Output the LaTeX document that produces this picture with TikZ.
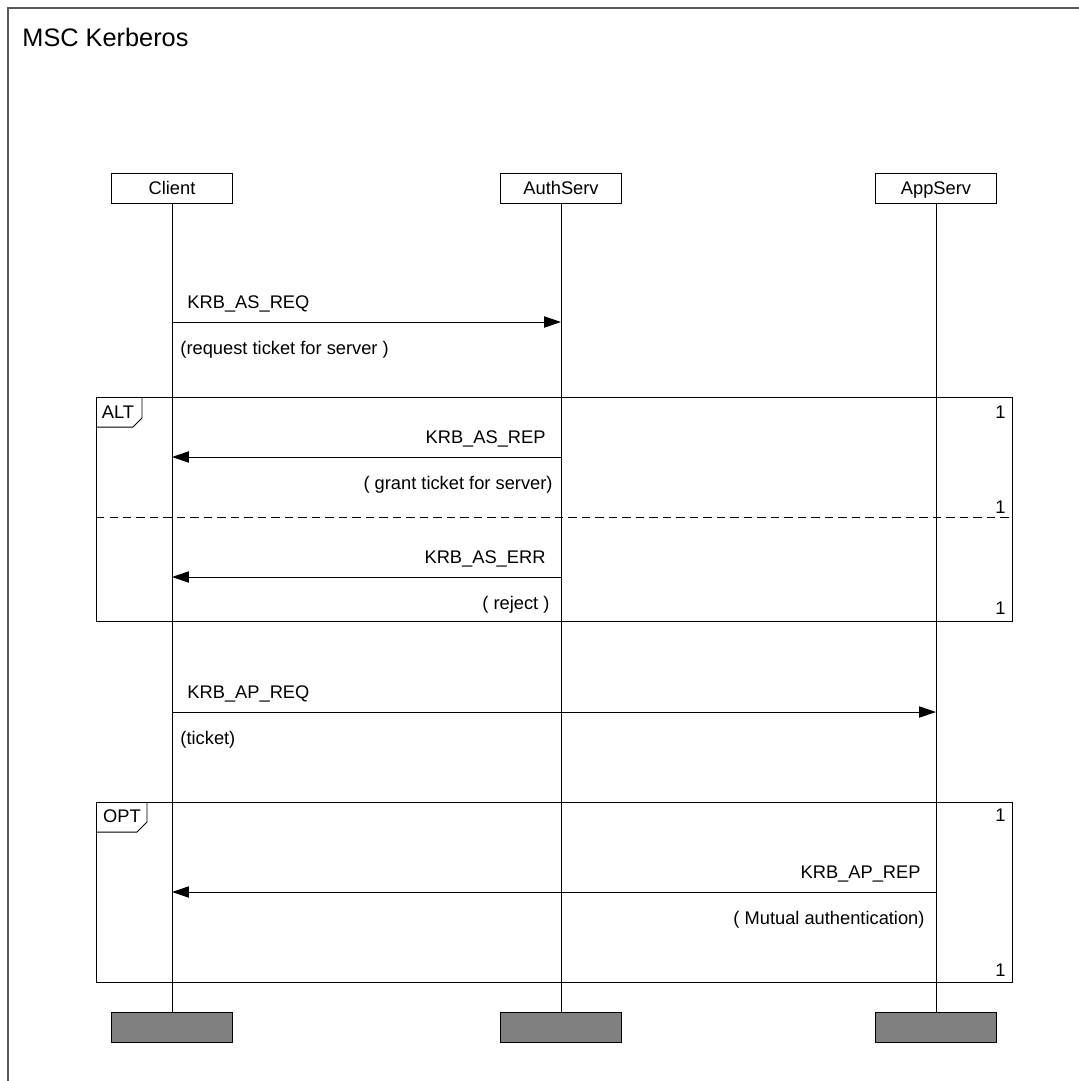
\documentclass[tikz,border=0pt]{standalone}
\usepackage{fontspec}
\setmainfont{Liberation Sans}
\usetikzlibrary{arrows.meta, positioning}

\begin{document}
\begin{tikzpicture}[x=0.025cm, y=-0.025cm, line width=0.7pt,
  inst/.style={draw, minimum width=3cm, minimum height=0.75cm, inner sep=0pt, text height=9.3pt, text depth=0pt, font=\fontsize{13}{15}\selectfont},
  instend/.style={draw, fill=black!50, minimum width=3cm, minimum height=0.75cm, inner sep=0pt},
  msg/.style={-{Triangle[length=12pt, width=8pt]}},
  lbl/.style={inner sep=0pt, font=\fontsize{13}{15}\selectfont},
  count/.style={lbl, anchor=east},
  inline/.style={draw}
]
  \useasboundingbox (0,0) rectangle (1079,1081);
  \draw[black!65, line width=0.9pt] (1079,8) -- (8,8) -- (8,1081);
  \node[anchor=west, inner sep=0pt, font=\fontsize{18}{21}\selectfont] (title) at (22,37) {MSC Kerberos};

  \node[inst] (client) at (172,188) {Client};
  \node[inst] (auth) at (561,188) {AuthServ};
  \node[inst] (app) at (936,188) {AppServ};
  \node[instend] (client-end) at (172,1027) {};
  \node[instend] (auth-end) at (561,1027) {};
  \node[instend] (app-end) at (936,1027) {};
  \foreach \i in {client,auth,app}
    \draw (\i.south) -- (\i-end.north);

  \coordinate (asreq) at (0,322);
  \coordinate (asrep) at (0,457);
  \coordinate (aserr) at (0,577);
  \coordinate (apreq) at (0,712);
  \coordinate (aprep) at (0,892);

  \draw[msg] (client |- asreq) -- (auth |- asreq);
  \node[lbl, anchor=west] (asreq-name) at (187,304) {KRB\_AS\_REQ};
  \node[lbl, anchor=west] (asreq-note) at (180,350) {(request ticket for server )};

  \draw[inline] (96,397) rectangle (1012,621);
  \draw (96,427) -- (133,427) -- (142,418) -- (142,397);
  \node[lbl] (alt-tag) at (118,412) {ALT};
  \draw[dash pattern=on 6pt off 3.6pt] (96,517) -- (1012,517);
  \node[count] (alt-c1) at (1006,412) {1};
  \node[count] (alt-c2) at (1006,507) {1};
  \node[count] (alt-c3) at (1006,608) {1};

  \draw[msg] (auth |- asrep) -- (client |- asrep);
  \node[lbl, anchor=east] (asrep-name) at (546,439) {KRB\_AS\_REP};
  \node[lbl, anchor=east] (asrep-note) at (553,485) {( grant ticket for server)};

  \draw[msg] (auth |- aserr) -- (client |- aserr);
  \node[lbl, anchor=east] (aserr-name) at (546,559) {KRB\_AS\_ERR};
  \node[lbl, anchor=east] (aserr-note) at (550,605) {( reject )};

  \draw[msg] (client |- apreq) -- (app |- apreq);
  \node[lbl, anchor=west] (apreq-name) at (187,694) {KRB\_AP\_REQ};
  \node[lbl, anchor=west] (apreq-note) at (180,740) {(ticket)};

  \draw[inline] (96,802) rectangle (1012,982);
  \draw (96,832) -- (137,832) -- (147,822) -- (147,802);
  \node[lbl] (opt-tag) at (122,816) {OPT};
  \node[count] (opt-c1) at (1006,815) {1};
  \node[count] (opt-c2) at (1006,970) {1};

  \draw[msg] (app |- aprep) -- (client |- aprep);
  \node[lbl, anchor=east] (aprep-name) at (921,874) {KRB\_AP\_REP};
  \node[lbl, anchor=east] (aprep-note) at (925,920) {( Mutual authentication)};
\end{tikzpicture}
\end{document}
